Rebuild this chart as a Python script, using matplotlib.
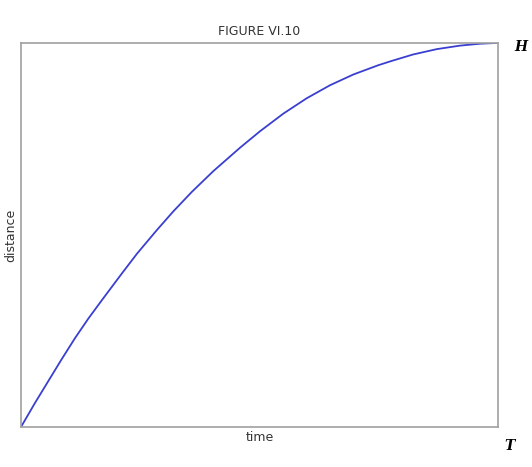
import numpy as np
import matplotlib
matplotlib.use("Agg")
import matplotlib.pyplot as plt

# values (time and distance as fractions of T and H)
time = [0.0, 0.029, 0.057, 0.085, 0.113, 0.141, 0.170, 0.211, 0.243, 0.285,
        0.319, 0.358, 0.403, 0.459, 0.501, 0.550, 0.599, 0.648, 0.697, 0.749,
        0.774, 0.822, 0.872, 0.920, 0.962, 0.997]
distance = [0.0, 0.062, 0.119, 0.176, 0.231, 0.282, 0.331, 0.399, 0.451, 0.513,
            0.561, 0.612, 0.666, 0.727, 0.770, 0.816, 0.856, 0.890, 0.918, 0.942,
            0.952, 0.970, 0.984, 0.993, 0.998, 1.0]

fig = plt.figure(figsize=(5.32, 4.67), dpi=100)
ax = fig.add_axes([0.0395, 0.0857, 0.8965, 0.8223])

ax.plot(time, distance, color="#3a3fd0", lw=1.3, solid_joinstyle="round")
ax.set_xlim(0, 1)
ax.set_ylim(0, 1)
ax.set_xticks([])
ax.set_yticks([])
for sp in ax.spines.values():
    sp.set_color("#a0a0a0")
    sp.set_linewidth(1.2)

ax.set_title("FIGURE VI.10", fontsize=9, color="#333333", pad=6)
ax.set_xlabel("time", fontsize=9, color="#333333", labelpad=3)
ax.set_ylabel("distance", fontsize=9, color="#333333", labelpad=3)

fig.text(521 / 532, 1 - 47 / 467, "H", fontsize=10, family="DejaVu Serif",
         style="italic", fontweight="bold", ha="center", va="center")
fig.text(510 / 532, 1 - 446 / 467, "T", fontsize=10, family="DejaVu Serif",
         style="italic", fontweight="bold", ha="center", va="center")

fig.savefig("out.png", dpi=100)
